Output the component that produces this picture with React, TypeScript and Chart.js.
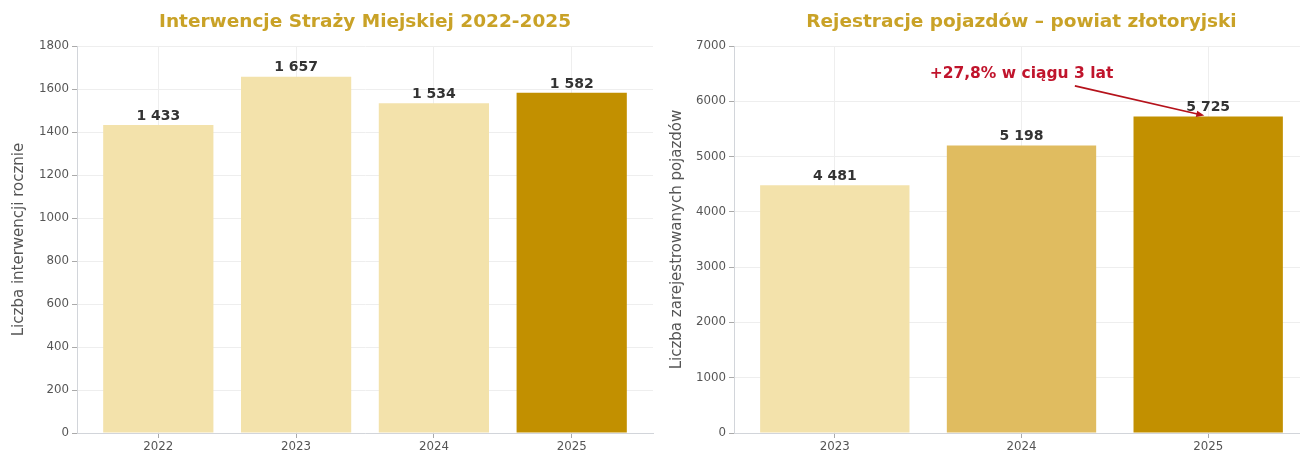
import React, { useEffect, useRef } from 'react';
import { Chart, registerables } from 'chart.js';

Chart.register(...registerables);

const FONT = "'DejaVu Sans', sans-serif";

// ---- Left panel data ----
const leftTitle = 'Interwencje Straży Miejskiej 2022-2025';
const leftYTitle = 'Liczba interwencji rocznie';
const leftYears = ['2022', '2023', '2024', '2025'];
const leftValues = [1433, 1657, 1534, 1582];
const leftColors = ['#f3e2ab', '#f3e2ab', '#f3e2ab', '#c29000'];
const leftYMax = 1800;
const leftYStep = 200;

// ---- Right panel data ----
const rightTitle = 'Rejestracje pojazdów – powiat złotoryjski';
const rightYTitle = 'Liczba zarejestrowanych pojazdów';
const rightYears = ['2023', '2024', '2025'];
const rightValues = [4481, 5198, 5725];
const rightColors = ['#f3e2ab', '#e0bc60', '#c29000'];
const rightYMax = 7000;
const rightYStep = 1000;

// ---- Annotation (right panel) ----
const annotationText = '+27,8% w ciągu 3 lat';
const annotationTextX = 1;
const annotationTextY = 6500;
const annotationTargetX = 2;
const annotationTargetY = 5725;

type Annotation = { text: string; tx: number; ty: number; px: number; py: number };

type PanelCfg = {
  title: string;
  yTitle: string;
  labels: string[];
  values: number[];
  colors: string[];
  yMax: number;
  yStep: number;
  yAxisWidth: number;
  padRight: number;
  yTitlePad: number;
  annotation?: Annotation;
};

const leftPanel: PanelCfg = {
  title: leftTitle,
  yTitle: leftYTitle,
  labels: leftYears,
  values: leftValues,
  colors: leftColors,
  yMax: leftYMax,
  yStep: leftYStep,
  yAxisWidth: 77,
  padRight: 7,
  yTitlePad: 10,
};

const rightPanel: PanelCfg = {
  title: rightTitle,
  yTitle: rightYTitle,
  labels: rightYears,
  values: rightValues,
  colors: rightColors,
  yMax: rightYMax,
  yStep: rightYStep,
  yAxisWidth: 74,
  padRight: 11,
  yTitlePad: 8,
  annotation: {
    text: annotationText,
    tx: annotationTextX,
    ty: annotationTextY,
    px: annotationTargetX,
    py: annotationTargetY,
  },
};

function fmt(v: number): string {
  return String(v).replace(/\B(?=(\d{3})+(?!\d))/g, ' ');
}

function makeChart(canvas: HTMLCanvasElement, cfg: PanelCfg) {
  const n = cfg.labels.length;
  const margin = 0.05 * (n - 1 + 0.8);
  const xmin = -0.4 - margin;
  const xmax = n - 1 + 0.4 + margin;

  const overlay = {
    id: 'overlay',
    afterDatasetsDraw(chart: any) {
      const ctx = chart.ctx as CanvasRenderingContext2D;
      const area = chart.chartArea;
      ctx.save();
      // Title
      ctx.font = `bold 18.5px ${FONT}`;
      ctx.fillStyle = '#c9a227';
      ctx.textAlign = 'center';
      ctx.textBaseline = 'middle';
      ctx.fillText(cfg.title, (area.left + area.right) / 2, 22);

      // Value labels
      const meta = chart.getDatasetMeta(0);
      ctx.font = `bold 14px ${FONT}`;
      ctx.fillStyle = '#333333';
      ctx.textBaseline = 'bottom';
      meta.data.forEach((el: any, i: number) => {
        ctx.fillText(fmt(cfg.values[i]), el.x, el.y - 2);
      });

      // Annotation
      const ann = cfg.annotation;
      if (ann) {
        const xs = chart.scales.x;
        const ys = chart.scales.y;
        const tx = xs.getPixelForValue(ann.tx);
        const ty = ys.getPixelForValue(ann.ty);
        const px = xs.getPixelForValue(ann.px);
        const py = ys.getPixelForValue(ann.py);
        ctx.font = `bold 15.5px ${FONT}`;
        const w = ctx.measureText(ann.text).width;
        const color = '#c0142c';
        ctx.fillStyle = color;
        ctx.textBaseline = 'middle';
        ctx.textAlign = 'center';
        ctx.fillText(ann.text, tx, ty);

        const dx = px - tx;
        const dy = py - ty;
        const len = Math.hypot(dx, dy);
        const ux = dx / len;
        const uy = dy / len;
        const hw = w / 2 + 4;
        const hh = 7.8 + 4;
        const t = Math.min(hw / Math.abs(dx), hh / Math.abs(dy));
        const sx = tx + dx * t + ux * 2;
        const sy = ty + dy * t + uy * 2;
        const ex = px - ux * 4;
        const ey = py - uy * 4;
        ctx.strokeStyle = '#b5121b';
        ctx.fillStyle = '#b5121b';
        ctx.lineWidth = 1.7;
        ctx.beginPath();
        ctx.moveTo(sx, sy);
        ctx.lineTo(ex - ux * 6, ey - uy * 6);
        ctx.stroke();
        // arrow head
        const hl = 8;
        const hwid = 3.2;
        const bx = ex - ux * hl;
        const by = ey - uy * hl;
        ctx.beginPath();
        ctx.moveTo(ex, ey);
        ctx.lineTo(bx - uy * hwid, by + ux * hwid);
        ctx.lineTo(bx + uy * hwid, by - ux * hwid);
        ctx.closePath();
        ctx.fill();
      }
      ctx.restore();
    },
  };

  return new Chart(canvas, {
    type: 'bar',
    data: {
      datasets: [
        {
          data: cfg.values.map((v, i) => ({ x: i, y: v })) as any,
          backgroundColor: cfg.colors,
          borderWidth: 0,
          barPercentage: 0.8,
          categoryPercentage: 1,
        },
      ],
    },
    options: {
      animation: false,
      responsive: false,
      devicePixelRatio: 1,
      layout: { padding: { left: 0, right: cfg.padRight, top: 46, bottom: 0 } },
      plugins: {
        legend: { display: false },
        tooltip: { enabled: false },
        title: { display: false },
      },
      scales: {
        x: {
          type: 'linear',
          min: xmin,
          max: xmax,
          offset: false,
          afterBuildTicks: (s: any) => {
            s.ticks = cfg.labels.map((_, i) => ({ value: i }));
          },
          afterFit: (s: any) => {
            s.height = 21;
          },
          ticks: {
            callback: (v: any) => cfg.labels[Math.round(Number(v))] ?? '',
            font: { family: FONT, size: 11.8 },
            color: '#555555',
            padding: 2,
            maxRotation: 0,
            autoSkip: false,
          },
          grid: {
            color: '#eeeeee',
            offset: false,
            drawTicks: true,
            tickLength: 5,
            tickColor: '#aaaaaa',
          },
          border: { display: true, color: '#d2d5da', width: 1 },
        },
        y: {
          min: 0,
          max: cfg.yMax,
          afterFit: (s: any) => {
            s.width = cfg.yAxisWidth;
          },
          ticks: {
            stepSize: cfg.yStep,
            callback: (v: any) => String(v),
            font: { family: FONT, size: 11.8 },
            color: '#555555',
            padding: 3,
          },
          grid: {
            color: '#eeeeee',
            drawTicks: true,
            tickLength: 5,
            tickColor: '#aaaaaa',
          },
          border: { display: true, color: '#d2d5da', width: 1 },
          title: {
            display: true,
            text: cfg.yTitle,
            color: '#555555',
            font: { family: FONT, size: 15 },
            padding: { top: cfg.yTitlePad, bottom: 0 },
          },
        },
      },
    } as any,
    plugins: [overlay],
  });
}

function Panel({ cfg, left }: { cfg: PanelCfg; left: number }) {
  const ref = useRef<HTMLCanvasElement>(null);
  useEffect(() => {
    const chart = makeChart(ref.current as HTMLCanvasElement, cfg);
    return () => chart.destroy();
  }, []);
  return (
    <canvas
      ref={ref}
      width={660}
      height={454}
      style={{ position: 'absolute', left, top: 0, width: 660, height: 454 }}
    />
  );
}

export default function App() {
  return (
    <div
      style={{
        position: 'fixed',
        left: 0,
        top: 0,
        width: 1300,
        height: 454,
        overflow: 'hidden',
        background: '#ffffff',
      }}
    >
      <Panel cfg={leftPanel} left={0} />
      <Panel cfg={rightPanel} left={660} />
    </div>
  );
}
